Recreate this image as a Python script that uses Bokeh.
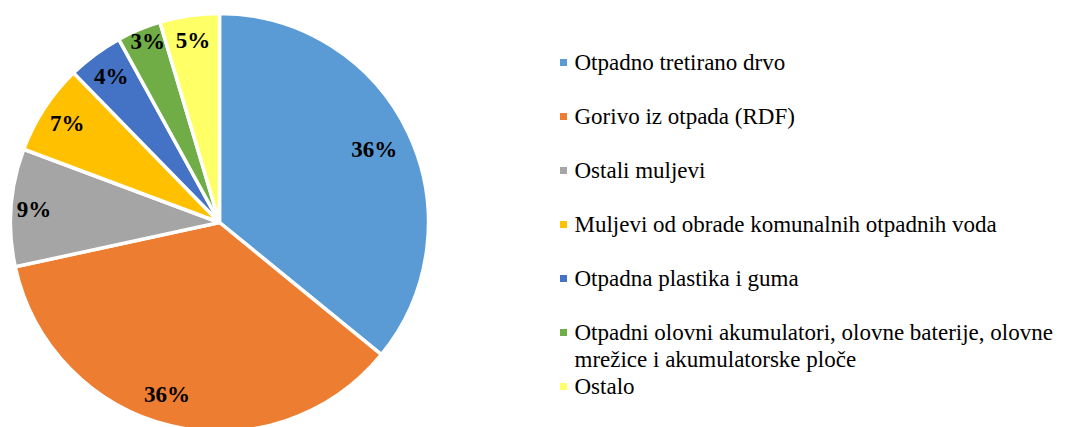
import math
from bokeh.plotting import figure
from bokeh.models import Range1d, ColumnDataSource
from bokeh.core.properties import value
from bokeh.embed import file_html
from bokeh.resources import INLINE

categories = [
    "Otpadno tretirano drvo",
    "Gorivo iz otpada (RDF)",
    "Ostali muljevi",
    "Muljevi od obrade komunalnih otpadnih voda",
    "Otpadna plastika i guma",
    "Otpadni olovni akumulatori, olovne baterije, olovne\nmrežice i akumulatorske ploče",
    "Ostalo",
]
values = [35.9, 35.7, 9.1, 7.0, 4.3, 3.4, 4.6]
colors = ["#5B9BD5", "#ED7D31", "#A5A5A5", "#FFC000", "#4472C4", "#70AD47", "#FFFF66"]

# style: label radius fractions and angular nudges (degrees, clockwise)
label_r = [0.82, 0.86, 0.89, 0.87, 0.87, 0.93, 0.88]
label_da = [0, 3.5, 0, 0, 0, 1, 0]

W, H = 1061, 427
p = figure(width=W, height=H, x_range=Range1d(0, W), y_range=Range1d(427 - H, 427),
           output_backend="svg", toolbar_location=None, min_border=0)
p.axis.visible = False
p.grid.visible = False
p.outline_line_color = None
p.background_fill_color = "white"

cx, cy, R = 219, 205, 209
total = sum(values)
starts, ends, lx, ly, ltxt = [], [], [], [], []
cum = 0.0
for i, v in enumerate(values):
    a0 = math.pi / 2 - 2 * math.pi * cum / total
    cum += v
    a1 = math.pi / 2 - 2 * math.pi * cum / total
    starts.append(a0)
    ends.append(a1)
    mid = (a0 + a1) / 2 - math.radians(label_da[i])
    lx.append(cx + R * label_r[i] * math.cos(mid))
    ly.append(cy + R * label_r[i] * math.sin(mid))
    ltxt.append(f"{round(100 * v / total)}%")

src = ColumnDataSource(dict(start=starts, end=ends, color=colors))
p.wedge(x=cx, y=cy, radius=R, start_angle="start", end_angle="end", direction="clock",
        fill_color="color", line_color="white", line_width=3.5, source=src)

p.text(x=lx, y=ly, text=ltxt, text_font=value("Liberation Serif"), text_font_style="bold",
       text_font_size="23px", text_align="center", text_baseline="middle", text_color="black")

# legend
lg_x, lg_y0, step, line_h = 563, 427 - 62, 54, 27
mx, my, mc, tx, ty, tt = [], [], [], [], [], []
for i, (c, col) in enumerate(zip(categories, colors)):
    y = lg_y0 - i * step
    mx.append(lg_x)
    my.append(y)
    mc.append(col)
    for j, line in enumerate(c.split("\n")):
        tx.append(lg_x + 11)
        ty.append(y - j * line_h)
        tt.append(line)

p.scatter(x=mx, y=my, marker="square", size=7, fill_color=mc, line_color=None)
p.text(x=tx, y=ty, text=tt, text_font=value("Liberation Serif"), text_font_size="23px",
       text_align="left", text_baseline="middle", text_color="black")

open("out.html", "w").write(file_html(p, INLINE))
